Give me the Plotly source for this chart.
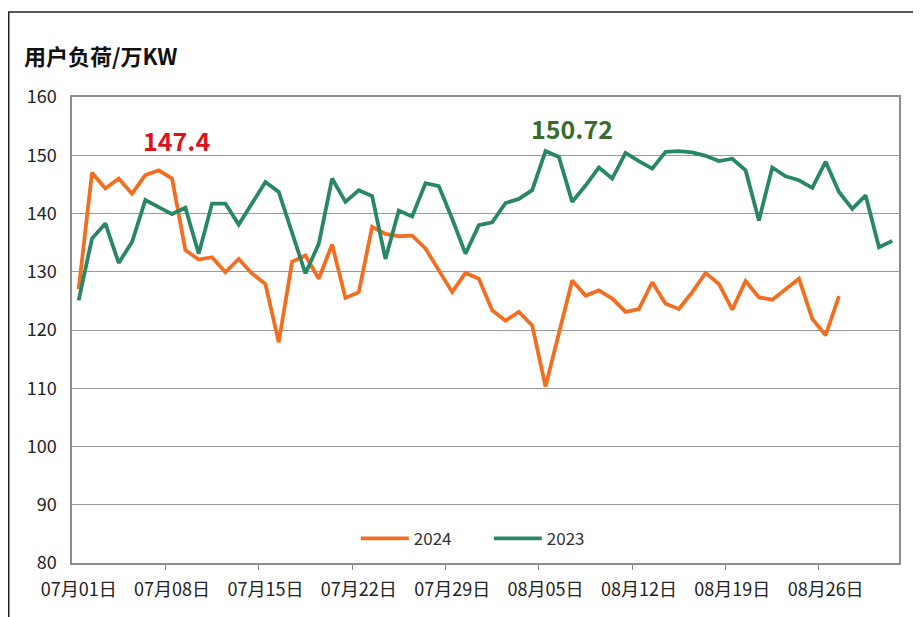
import plotly.graph_objects as go

# day labels 07月01日 ... 08月31日
dates = [f"07月{d:02d}日" for d in range(1, 32)] + [f"08月{d:02d}日" for d in range(1, 32)]

load_2024 = [127.0, 147.0, 144.3, 146.0, 143.4, 146.6, 147.4, 146.0, 133.7, 132.1,
             132.5, 129.9, 132.2, 129.7, 127.9, 117.9, 131.7, 132.8, 128.8, 134.7,
             125.5, 126.5, 137.7, 136.5, 136.1, 136.2, 134.0, 130.2, 126.5, 129.8,
             128.8, 123.4, 121.6, 123.1, 120.8, 110.3, 119.5, 128.5, 125.9, 126.8,
             125.4, 123.1, 123.6, 128.2, 124.5, 123.6, 126.5, 129.8, 127.9, 123.5,
             128.4, 125.6, 125.2, 127.1, 128.8, 121.9, 119.1, 125.8]

load_2023 = [125.1, 135.7, 138.3, 131.5, 135.1, 142.3, 141.1, 139.9, 141.0, 133.1,
             141.7, 141.7, 138.1, 141.8, 145.4, 143.7, 136.5, 129.7, 134.8, 146.0,
             142.0, 144.0, 143.0, 132.2, 140.5, 139.5, 145.2, 144.7, 139.1, 133.1,
             138.0, 138.5, 141.8, 142.5, 144.0, 150.72, 149.7, 142.0, 144.8, 147.9,
             146.0, 150.4, 149.0, 147.7, 150.6, 150.7, 150.5, 149.9, 149.0, 149.4,
             147.4, 138.8, 147.9, 146.4, 145.7, 144.4, 148.9, 143.7, 140.8, 143.1,
             134.2, 135.3]

y_ticks = [80, 90, 100, 110, 120, 130, 140, 150, 160]
x_tick_idx = list(range(0, 62, 7))
x_tick_text = [dates[i] for i in x_tick_idx]

ORANGE = "#F26F21"
GREEN = "#2A8766"
FONT = "Noto Sans CJK SC"

fig = go.Figure()
fig.add_trace(go.Scatter(x=list(range(len(load_2024))), y=load_2024, mode="lines",
                         name="2024", line=dict(color=ORANGE, width=3.8)))
fig.add_trace(go.Scatter(x=list(range(len(load_2023))), y=load_2023, mode="lines",
                         name="2023", line=dict(color=GREEN, width=3.8)))

# peak labels
i24 = load_2024.index(max(load_2024))
i23 = load_2023.index(max(load_2023))
fig.add_annotation(x=i24 + 1.3, y=max(load_2024) + 5.3, text=f"<b>{max(load_2024)}</b>",
                   showarrow=False, font=dict(family=FONT, size=25, color="#D9151C"))
fig.add_annotation(x=i23 + 2.0, y=max(load_2023) + 3.9, text=f"<b>{max(load_2023)}</b>",
                   showarrow=False, font=dict(family=FONT, size=25, color="#3A6B2F"))

# title
fig.add_annotation(xref="paper", yref="paper", x=-0.06, y=1.09, xanchor="left", yanchor="middle",
                   text="<b>用户负荷/万KW</b>", showarrow=False,
                   font=dict(family=FONT, size=22, color="#111111"))

# outer frame (left + top edges)
fig.add_shape(type="path", xref="paper", yref="paper",
              path="M -0.0765 -0.3 L -0.0765 1.1824 L 1.1 1.1824",
              line=dict(color="#222222", width=1.5))

# page body has an 8px margin: shrink figure and margins accordingly
fig.update_layout(
    width=913, height=609,
    margin=dict(l=64, r=22, t=89, b=54),
    paper_bgcolor="white", plot_bgcolor="white",
    font=dict(family=FONT, size=16, color="#333333"),
    showlegend=True,
    legend=dict(orientation="h", x=0.504, xanchor="center", y=0.052, yanchor="middle",
                font=dict(family=FONT, size=17, color="#333333"),
                itemwidth=48, entrywidth=70, bgcolor="rgba(0,0,0,0)", traceorder="normal"),
    xaxis=dict(range=[-0.5, 61.5], tickvals=x_tick_idx, ticktext=x_tick_text,
               ticks="outside", ticklen=10, tickcolor="rgba(0,0,0,0)",
               showgrid=False, zeroline=False,
               showline=True, linecolor="#8C8C8C", linewidth=1.5, mirror=True,
               tickfont=dict(family=FONT, size=18, color="#222222"),
               minor=dict(tickvals=[i - 0.5 for i in x_tick_idx[1:]], ticks="outside",
                          ticklen=5, tickcolor="#8C8C8C", tickwidth=1, showgrid=False)),
    yaxis=dict(range=[80, 160], tickvals=y_ticks, ticks="outside", ticklen=10,
               tickcolor="rgba(0,0,0,0)", showgrid=True, gridcolor="#9A9A9A", gridwidth=1.2,
               zeroline=False, showline=True, linecolor="#8C8C8C", linewidth=1.5, mirror=True,
               tickfont=dict(family=FONT, size=18, color="#222222")),
)

fig.write_html("out.html")
